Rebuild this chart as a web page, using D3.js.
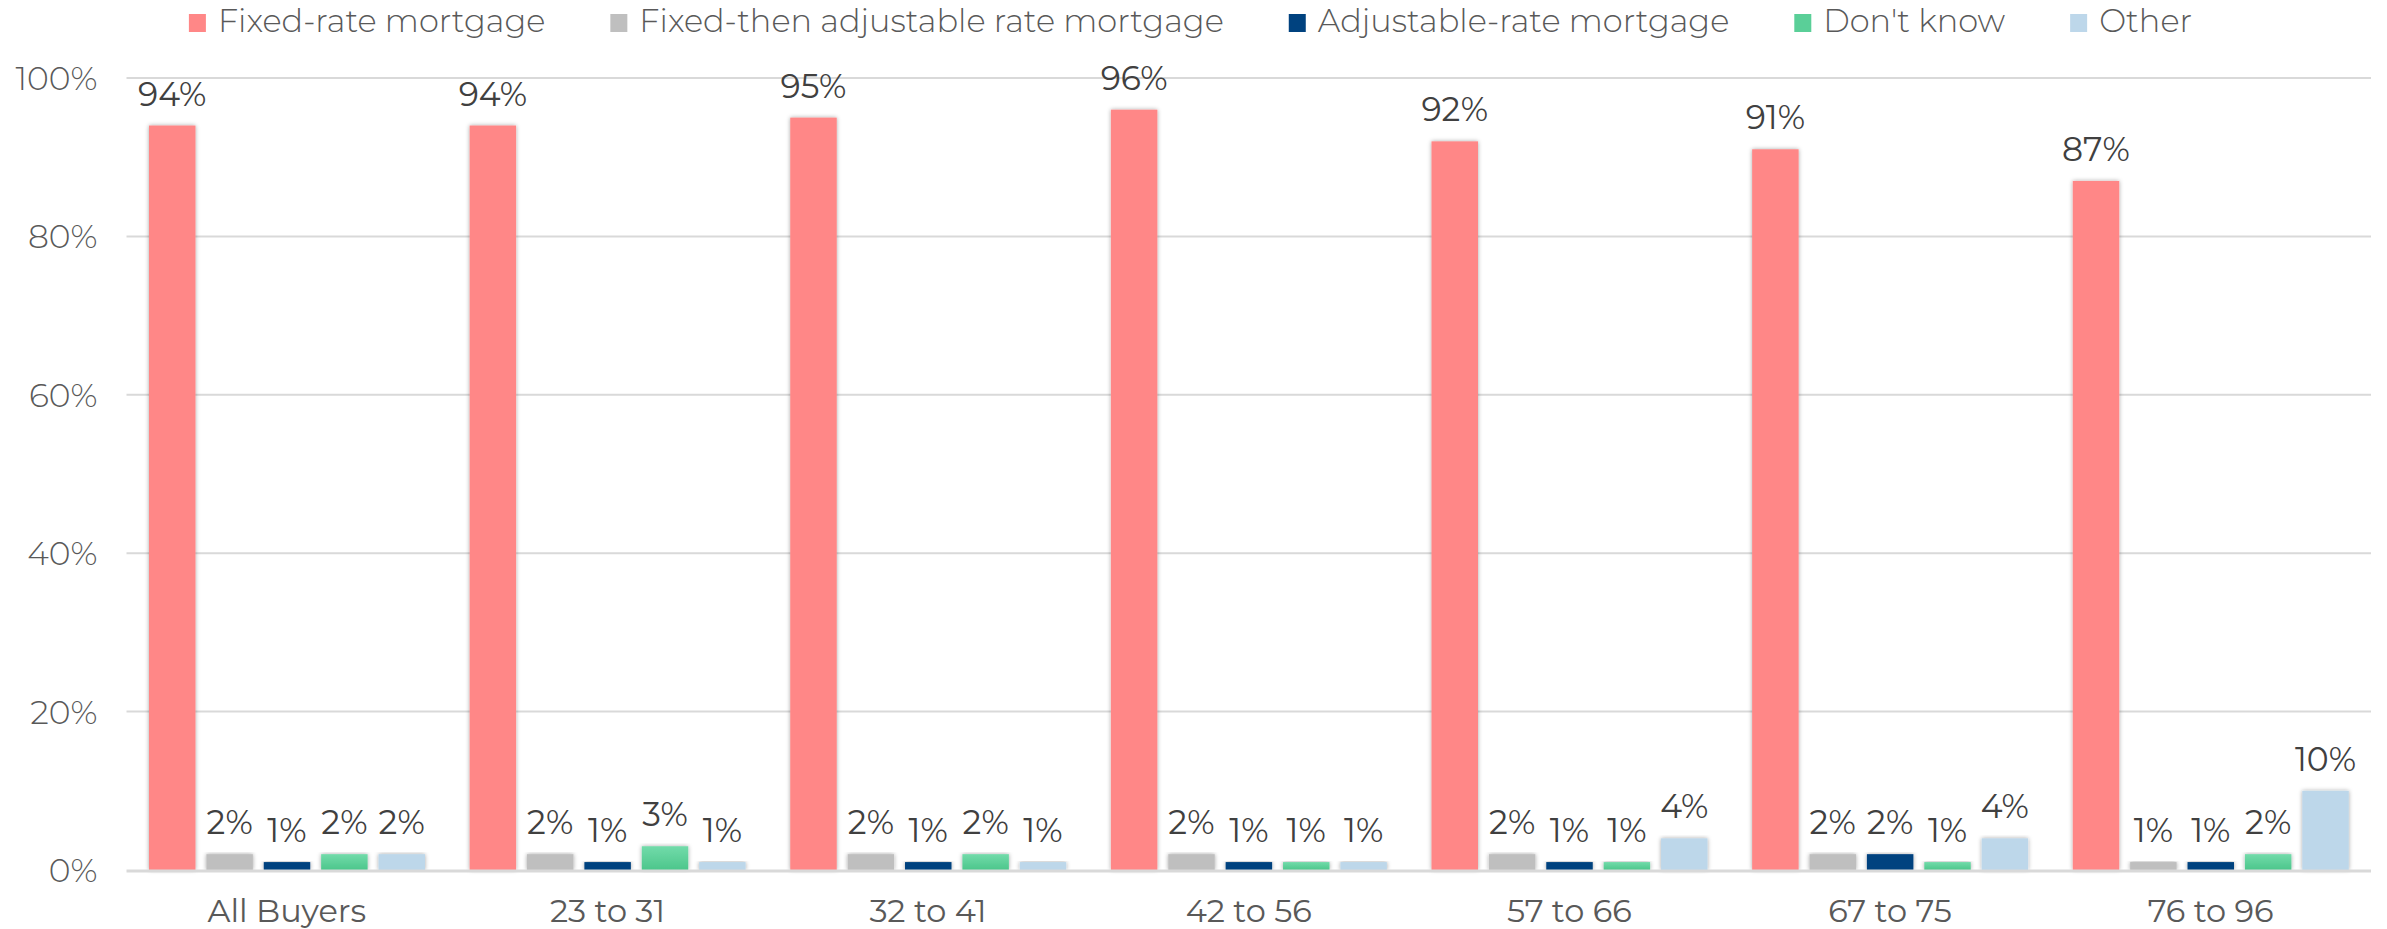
<!DOCTYPE html>
<html>
<head>
<meta charset="utf-8">
<script src="https://cdn.jsdelivr.net/npm/d3@7"></script>
<style>
    body { margin: 0; background: #fff; }
    svg { display: block; }
</style>
</head>
<body>
<div id="chart"></div>
<script>
// données
const categories = ["All Buyers", "23 to 31", "32 to 41", "42 to 56", "57 to 66", "67 to 75", "76 to 96"];
const series = ["Fixed-rate mortgage", "Fixed-then adjustable rate mortgage", "Adjustable-rate mortgage", "Don't know", "Other"];

const fixedRate = [94, 94, 95, 96, 92, 91, 87];
const fixedThenAdjustable = [2, 2, 2, 2, 2, 2, 1];
const adjustableRate = [1, 1, 1, 1, 1, 2, 1];
const dontKnow = [2, 3, 2, 1, 1, 1, 2];
const other = [2, 1, 1, 1, 4, 4, 10];

const yTicks = [0, 20, 40, 60, 80, 100];

const allValues = [fixedRate, fixedThenAdjustable, adjustableRate, dontKnow, other];

const colors = ["#FF8787", "#BFBFBF", "#00427F", "url(#gradGreen)", "#BDD7EA"];
const legendColors = ["#FF8787", "#BFBFBF", "#00427F", "#5ACF98", "#BDD7EA"];

// table pour d3
const table = categories.map((c, i) => ({
    cat: c,
    values: series.map((s, j) => ({ serie: s, idx: j, value: allValues[j][i] }))
}));

const W = 2387, H = 929;
const margin = { top: 78, right: 16, bottom: 59, left: 126.5 };
const font = "Montserrat, 'Open Sans', sans-serif";

const svg = d3.select("#chart")
    .append("svg")
    .attr("width", W)
    .attr("height", H);

const defs = svg.append("defs");
const grad = defs.append("linearGradient")
    .attr("id", "gradGreen")
    .attr("x1", 0).attr("y1", 0).attr("x2", 0).attr("y2", 1);
grad.append("stop").attr("offset", "0%").attr("stop-color", "#72DBAA");
grad.append("stop").attr("offset", "100%").attr("stop-color", "#4CC68B");

const shadow = defs.append("filter")
    .attr("id", "shadow")
    .attr("x", "-30%").attr("y", "-10%")
    .attr("width", "160%").attr("height", "120%");
shadow.append("feDropShadow")
    .attr("dx", 0).attr("dy", 0)
    .attr("stdDeviation", 2.2)
    .attr("flood-color", "#000")
    .attr("flood-opacity", 0.35);

// échelles
const x0 = d3.scaleBand()
    .domain(categories)
    .range([margin.left, W - margin.right - 0.1])
    .padding(0);

const x1 = d3.scaleBand()
    .domain(series)
    .range([22.5, 298.5])
    .paddingInner(0.19)
    .paddingOuter(0);

const y = d3.scaleLinear()
    .domain([0, 100])
    .range([H - margin.bottom, margin.top]);

// grille
svg.append("g")
    .selectAll("line")
    .data(yTicks.filter(d => d > 0))
    .enter().append("line")
    .attr("x1", margin.left)
    .attr("x2", W - margin.right)
    .attr("y1", d => y(d))
    .attr("y2", d => y(d))
    .attr("stroke", "#D9D9D9")
    .attr("stroke-width", 2);

// axe y
const yAxis = svg.append("g")
    .attr("transform", "translate(" + (margin.left - 29) + ",0)")
    .call(d3.axisLeft(y).tickValues(yTicks).tickFormat(d => d + "%").tickSize(0));
yAxis.select(".domain").remove();
yAxis.selectAll("text")
    .attr("x", 0)
    .attr("dy", "0.35em")
    .style("font-family", font)
    .style("font-weight", 300)
    .style("font-size", "33px")
    .style("fill", "#595959");

// barres
const groups = svg.append("g")
    .selectAll("g")
    .data(table)
    .enter().append("g")
    .attr("transform", d => "translate(" + x0(d.cat) + ",0)");

groups.selectAll("rect")
    .data(d => d.values)
    .enter().append("rect")
    .attr("x", d => x1(d.serie))
    .attr("y", d => y(d.value))
    .attr("width", x1.bandwidth())
    .attr("height", d => y(0) - y(d.value))
    .attr("fill", d => colors[d.idx])
    .attr("filter", "url(#shadow)");

groups.selectAll("text")
    .data(d => d.values)
    .enter().append("text")
    .attr("x", d => x1(d.serie) + x1.bandwidth() / 2)
    .attr("y", d => y(d.value) - 20)
    .attr("text-anchor", "middle")
    .style("font-family", font)
    .style("font-size", "33px")
    .style("fill", "#404040")
    .text(d => d.value + "%");

// axe x (ligne de base)
svg.append("line")
    .attr("x1", margin.left)
    .attr("x2", W - margin.right)
    .attr("y1", y(0) + 1)
    .attr("y2", y(0) + 1)
    .attr("stroke", "#D9D9D9")
    .attr("stroke-width", 3);

const xAxis = svg.append("g")
    .attr("transform", "translate(0," + y(0) + ")")
    .call(d3.axisBottom(x0).tickSize(0));
xAxis.select(".domain").remove();
xAxis.selectAll("text")
    .attr("y", 52)
    .attr("dy", 0)
    .style("font-family", font)
    .style("font-size", "32px")
    .style("fill", "#595959");

// légende
const legend = svg.append("g").attr("class", "legend");
const items = legend.selectAll("g")
    .data(series)
    .enter().append("g");

items.append("rect")
    .attr("x", 0)
    .attr("y", 14)
    .attr("width", 17)
    .attr("height", 18)
    .attr("fill", (d, i) => legendColors[i]);

items.append("text")
    .attr("x", 29)
    .attr("y", 32)
    .style("font-family", font)
    .style("font-weight", 300)
    .style("font-size", "32px")
    .style("fill", "#595959")
    .text(d => d);

const gap = 65;
let pos = 0;
const offsets = [];
items.each(function (d, i) {
    offsets.push(pos);
    const w = d3.select(this).select("text").node().getComputedTextLength();
    pos += 29 + w + gap;
});
const totalW = pos - gap;
const startX = W / 2 - 3 - totalW / 2;
items.attr("transform", (d, i) => "translate(" + (startX + offsets[i]) + ",0)");
</script>
</body>
</html>
